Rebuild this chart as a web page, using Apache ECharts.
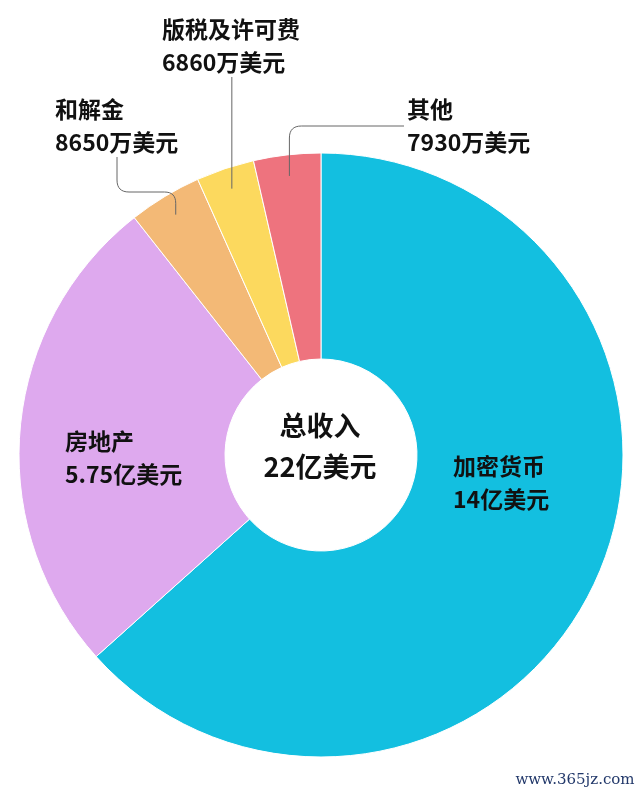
<!DOCTYPE html>
<html>
<head>
<meta charset="utf-8">
<script src="https://cdn.jsdelivr.net/npm/echarts@6/dist/echarts.min.js"></script>
<style>
html, body { margin: 0; padding: 0; background: #fff; }
#chart { width: 640px; height: 795px; }
</style>
</head>
<body>
<div id="chart"></div>
<script>
// 数据（单位：万美元）
const names = ['加密货币', '房地产', '和解金', '版税及许可费', '其他'];
const values = [140000, 57500, 8650, 6860, 7930];
const colors = ['#13bfe0', '#dea9ee', '#f3b976', '#fcd95e', '#ee737e'];
const totalText = ['总收入', '22亿美元'];
const watermark = 'www.365jz.com';

// 版面
const CX = 321, CY = 455, R0 = 96, R1 = 302;
const LABEL_AT = [
    { x: 453, y: 483 },
    { x: 65, y: 458 },
    { x: 55, y: 126, line: 'elbow', midY: 192, endX: 117 },
    { x: 162, y: 46, line: 'up' },
    { x: 407, y: 126, line: 'right' }
];

function fmt(v) {
    return v >= 10000 ? (v / 10000) + '亿美元' : v + '万美元';
}

// 扇区中线上的一点（由数据累计角度得出）
const total = values.reduce(function (a, b) { return a + b; }, 0);
function midPoint(i, r) {
    let before = 0;
    for (let k = 0; k < i; k++) before += values[k];
    const ang = (before + values[i] / 2) / total * Math.PI * 2; // 自12点顺时针
    return [CX + r * Math.sin(ang), CY - r * Math.cos(ang)];
}

// 折线拐角做成圆角
function rounded(pts, rr) {
    const out = [pts[0]];
    for (let i = 1; i < pts.length - 1; i++) {
        const a = pts[i - 1], p = pts[i], b = pts[i + 1];
        const la = Math.hypot(a[0] - p[0], a[1] - p[1]);
        const lb = Math.hypot(b[0] - p[0], b[1] - p[1]);
        const r = Math.min(rr, la / 2, lb / 2);
        const s = [p[0] + (a[0] - p[0]) / la * r, p[1] + (a[1] - p[1]) / la * r];
        const e = [p[0] + (b[0] - p[0]) / lb * r, p[1] + (b[1] - p[1]) / lb * r];
        for (let k = 0; k <= 8; k++) {
            const t = k / 8;
            out.push([
                (1 - t) * (1 - t) * s[0] + 2 * (1 - t) * t * p[0] + t * t * e[0],
                (1 - t) * (1 - t) * s[1] + 2 * (1 - t) * t * p[1] + t * t * e[1]
            ]);
        }
    }
    out.push(pts[pts.length - 1]);
    return out;
}

const labelStyle = {
    formatter: function (p) { return p.name + '\n' + fmt(p.value); },
    fontFamily: 'Noto Sans CJK SC',
    fontSize: 23,
    fontWeight: 'bold',
    lineHeight: 33,
    color: '#111',
    align: 'left'
};

function layoutLabel(params) {
    const i = params.dataIndex;
    const p = LABEL_AT[i];
    const res = { x: p.x, y: p.y, align: 'left', verticalAlign: 'middle' };
    if (p.line) {
        const s = midPoint(i, R1 * 0.93);
        let pts;
        if (p.line === 'right') {
            pts = [s, [s[0], p.y], [p.x - 3, p.y]];
        } else if (p.line === 'up') {
            pts = [s, [s[0], p.y + 31]];
        } else {
            pts = [s, [s[0], p.midY], [p.endX, p.midY], [p.endX, p.y + 31]];
        }
        res.labelLinePoints = rounded(pts, 12);
    }
    return res;
}

// 底层：彩色扇区 + 扇区内的标签
const pieData = names.map(function (n, i) {
    return {
        name: n,
        value: values[i],
        itemStyle: { color: colors[i] },
        label: { show: !LABEL_AT[i].line }
    };
});

// 上层：透明扇区，只负责外部标签和引导线（保证引导线压在扇区上）
const guideData = names.map(function (n, i) {
    const outside = !!LABEL_AT[i].line;
    return {
        name: n,
        value: values[i],
        label: { show: outside },
        labelLine: { show: outside }
    };
});

var chart = echarts.init(document.getElementById('chart'));

chart.setOption({
    animation: false,
    series: [
        {
            type: 'pie',
            z: 2,
            center: [CX, CY],
            radius: [R0, R1],
            startAngle: 90,
            clockwise: true,
            avoidLabelOverlap: false,
            silent: true,
            itemStyle: { borderColor: '#fff', borderWidth: 1 },
            label: Object.assign({ position: 'inside' }, labelStyle),
            labelLine: { show: false },
            labelLayout: layoutLabel,
            data: pieData
        },
        {
            type: 'pie',
            z: 5,
            center: [CX, CY],
            radius: [R0, R1],
            startAngle: 90,
            clockwise: true,
            avoidLabelOverlap: false,
            silent: true,
            itemStyle: { color: 'rgba(0,0,0,0)', borderWidth: 0 },
            label: Object.assign({ position: 'outside' }, labelStyle),
            labelLine: { lineStyle: { color: '#666', width: 1 } },
            labelLayout: layoutLabel,
            data: guideData
        }
    ],
    graphic: [
        {
            type: 'text',
            silent: true,
            style: {
                text: totalText.join('\n'),
                x: CX - 1, y: CY - 9,
                align: 'center',
                verticalAlign: 'middle',
                font: 'bold 27px "Noto Sans CJK SC"',
                lineHeight: 41,
                fill: '#111'
            }
        },
        {
            type: 'text',
            silent: true,
            style: {
                text: watermark,
                x: 575, y: 780,
                align: 'center',
                verticalAlign: 'middle',
                font: '15px "DejaVu Serif"',
                fill: '#22386a'
            }
        }
    ]
});
</script>
</body>
</html>
